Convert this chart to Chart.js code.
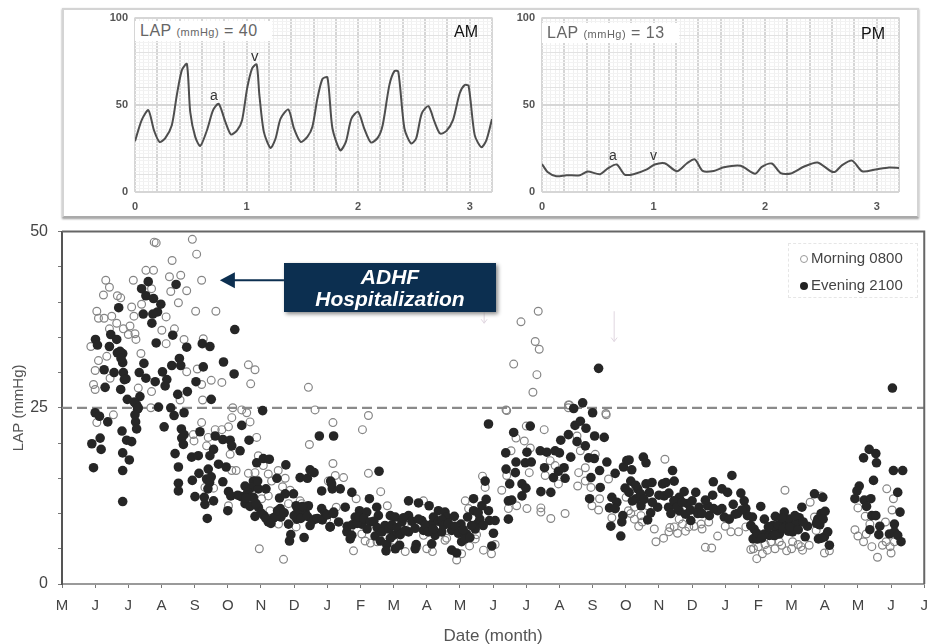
<!DOCTYPE html>
<html>
<head>
<meta charset="UTF-8">
<style>
    html, body { overflow: hidden; }
    body { margin: 0; background: #fff; font-family: 'Liberation Sans', Arial, sans-serif; }
    canvas { position: absolute; }
    #mainChart { filter: blur(0.5px); }
    #amChart, #pmChart { filter: blur(0.6px); }
    .frame { position: absolute; left: 62px; top: 8px; width: 853px; height: 206px; border: 2px solid #d4d4d4; border-bottom-color: #aaa; box-shadow: 0 1px 2px #999; }
    .lbl { position: absolute; white-space: nowrap; color: #444; }
    .lap { background: #fff; color: #666; font-size: 16px; letter-spacing: 0.5px; padding: 1px 14px 1px 5px; }
    .lap small { font-size: 11px; }
    .adhf { position: absolute; left: 284px; top: 263px; width: 212px; height: 49px; background: #0c2f50; color: #fff; font-weight: bold; font-style: italic; font-size: 21px; line-height: 22px; text-align: center; padding-top: 3px; box-sizing: border-box; box-shadow: 2px 2px 4px #888; }
    .legend { position: absolute; left: 788px; top: 243px; width: 128px; height: 53px; border: 1px dashed #e6e6e6; font-size: 15px; color: #444; }
    .legend div { position: absolute; left: 11px; white-space: nowrap; }
    .legend i { display: inline-block; width: 8px; height: 8px; border-radius: 50%; margin-right: 3px; box-sizing: border-box; }
</style>
</head>
<body>
<div class="frame"></div>
<canvas id="amChart" width="400" height="211" style="left:100px;top:4px"></canvas>
<canvas id="pmChart" width="400" height="211" style="left:507px;top:4px"></canvas>
<canvas id="mainChart" width="937" height="435" style="left:0;top:212px"></canvas>

<div class="lbl lap" style="left:135px;top:21px">LAP <small>(mmHg)</small> = 40</div>
<div class="lbl lap" style="left:542px;top:23px">LAP <small>(mmHg)</small> = 13</div>
<div class="lbl" style="left:454px;top:23px;font-size:16px;color:#111">AM</div>
<div class="lbl" style="left:861px;top:25px;font-size:16px;color:#111">PM</div>
<div class="lbl" style="left:210px;top:87px;font-size:14px;color:#333">a</div>
<div class="lbl" style="left:251px;top:47px;font-size:15px;color:#333">v</div>
<div class="lbl" style="left:609px;top:147px;font-size:14px;color:#333">a</div>
<div class="lbl" style="left:650px;top:147px;font-size:14px;color:#333">v</div>
<div class="adhf">ADHF<br>Hospitalization</div>
<div class="legend">
    <div style="top:5px"><i style="border:1px solid #999"></i>Morning 0800</div>
    <div style="top:32px"><i style="background:#222"></i>Evening 2100</div>
</div>

<script src="https://cdn.jsdelivr.net/npm/chart.js"></script>
<script>
    const monthLabels = ['M','J','J','A','S','O','N','D','J','F','M','A','M','J','J','A','S','O','N','D','J','F','M','A','M','J','J'];
    const limitLAP = 25;

    // waveforms, [seconds, mmHg]
    const amTrace = [[0,29.1],[.06,41.2],[.12,46.9],[.17,35.4],[.22,28.7],[.27,30.7],[.33,38.3],[.375,55.6],[.42,69.9],[.465,73.4],[.495,46],[.54,31.6],[.585,26.4],[.645,35.4],[.7,46.9],[.75,50.6],[.81,40.2],[.86,33],[.915,35.4],[.96,41.2],[1.005,59.4],[1.05,70.9],[1.09,73.2],[1.115,55.6],[1.155,34.5],[1.215,25.3],[1.26,30.7],[1.305,42.1],[1.375,47.3],[1.425,36.4],[1.485,28.7],[1.545,31.6],[1.59,37.4],[1.635,53.6],[1.68,64.8],[1.725,65.7],[1.77,36.4],[1.84,23.9],[1.89,28.7],[1.94,42.1],[2,46],[2.055,36.4],[2.115,28.4],[2.175,31],[2.22,38.3],[2.28,61.3],[2.325,69.3],[2.36,69],[2.415,36.4],[2.475,27.8],[2.52,30.7],[2.57,45],[2.63,49.2],[2.685,40.2],[2.735,33.5],[2.79,34.9],[2.85,41.2],[2.91,56.5],[2.955,61.3],[2.99,60.9],[3.045,32.6],[3.105,25.7],[3.15,29.7],[3.2,41.8]];
    const pmTrace = [[0,16],[.05,11.5],[.13,9],[.22,9.6],[.34,9.6],[.41,11.7],[.52,10.2],[.59,13.5],[.67,15.8],[.74,10],[.82,10.2],[.94,13],[1.01,15.8],[1.1,16.5],[1.21,11.9],[1.3,16.5],[1.37,18.7],[1.44,12.1],[1.54,12.1],[1.63,14.2],[1.78,15],[1.91,10.4],[1.97,14.4],[2.06,16.3],[2.14,10.8],[2.23,10.6],[2.35,14.6],[2.47,16.9],[2.59,11.9],[2.63,11.7],[2.69,15.4],[2.78,18],[2.87,11.9],[2.99,12.9],[3.11,14],[3.2,13.8]];

    // daily readings, [month index, mmHg]
    const morning = [[2.78,48.5],[2.84,48.4],[3.93,48.9],[4.06,46.8],[3.32,45.9],[2.76,44.5],[2.53,44.5],[2.15,43.1],[1.32,43.1],[3.24,43.6],[3.58,43.8],[4.21,43.1],[1.43,42.1],[1.25,41],[3.28,41.5],[3.76,41.6],[2.7,41.9],[1.77,40.6],[1.67,40.9],[3.51,39.9],[2.1,39.3],[2.4,39.7],[1.05,38.7],[4.03,38.7],[4.64,38.7],[1.5,38],[2.17,38],[1.1,37.7],[1.27,37.7],[3.14,37.9],[1.65,37],[2.05,36.6],[1.85,36.2],[3.01,36],[3.39,36.2],[1.43,36.2],[2,35.4],[2.2,35.5],[2.23,34.7],[4.26,34.8],[3.14,34.1],[3.68,34.7],[.87,33.7],[2.38,32.7],[1.35,32.3],[1.1,31.7],[5.62,31.1],[5.82,30.4],[1,30.3],[4.08,30.5],[3.76,30.1],[1.45,29.2],[4.5,28.9],[4.82,28.6],[.95,28.3],[5.69,28.4],[4.21,28.3],[1,27.6],[2.3,27.8],[2.7,27.3],[7.43,27.9],[4.24,26.1],[3.56,26.1],[2.68,25],[5.15,25],[5.57,24.3],[7.63,24.7],[5.12,23.6],[4.21,22.9],[8.17,22.9],[5.67,23],[5.42,24.7],[1.55,24],
    [1.05,22.9],[4.62,21.9],[4.82,21.9],[5.02,22.3],[3.96,21.2],[3.98,20.3],[4.41,20.8],[4.36,19.6],[5.87,20.8],[7.46,19.8],[8.17,17.1],[5.07,18.4],[5.92,18.2],[6.07,16.8],[5.25,16.1],[5.12,16.1],[5.62,15.7],[5.82,15.8],[6.22,15.6],[6.52,16.1],[6.73,15],[6.32,14.6],[8.24,15.4],[8.03,14.6],[4.31,13.7],[4.57,13.6],[6.65,13.8],[6.88,13.3],[6.22,12.5],[6.02,12.1],[5.02,11.1],[6.27,10.4],[7.18,11.8],[7.23,11.4],[6.83,11.4],[8.27,10.9],[5.95,5],[6.68,3.5],[7.06,8.1],[6.53,8.5],[7.98,9.2],
    [9.06,21.9],[9.24,23.9],[8.49,15.1],[9.24,15.7],[9.61,13.1],[8.87,12.1],[9.81,11.1],[8.79,4.7],[9.14,6.1],[9.04,7.1],[10.35,4.6],[11.17,4.6],[11.55,6.2],[12.05,4.3],[11.9,3.4],[12.29,5.4],[12.46,6.4],[12.71,4.8],[12.95,4.3],[13.06,5.6],[12.68,15.3],[12.76,13.7],[12.16,11.8],[12.26,10.7],[10.9,11.8],[10.55,8.3],[10.9,6.9],[9.99,9.5],
    [8.7,8],[9.5,6],[10,6.2],[11,5],[11.6,6.5],[12.5,7],[9.3,5.8],[10.7,5.3],
    [13.26,13.3],[13.41,24.6],[13.46,10.7],[13.71,11.1],[14.02,10.7],[14.44,10.8],[14.44,10.2],[14.74,9.3],[15.17,10],[14.54,21.9],[13.54,18.9],[13.69,20.7],[13.94,20.3],[14.12,19.3],[14,22.4],[14.09,15.8],[13.41,15.4],[14.57,15.4],[14.72,17.5],[14.87,16.8],[14.97,14.2],[15.27,25],[15.3,25.4],[16.41,24],[15.53,21],[15.63,18.9],[15.58,15.8],[15.55,13.9],[15.78,16.5],[15.78,14.6],[16.08,18.4],[16.48,14.9],[15.95,13.7],[16.21,12.1],[15.98,11.1],[16.18,10.5],[16.58,9.4],[17.01,12.3],[17.08,10.4],
    [14.36,38.7],[13.84,37.2],[14.27,34.4],[14.39,33.3],[13.62,31.2],[14.32,29.7],[14.2,27.2],[13.39,24.7],[15.27,25.4],[16.4,24.2],
    [18.18,17.7],[17.26,10.9],[17.15,10],[17.26,9.2],[17.46,9.7],[17.39,8.2],[17.66,11.1],[17.86,7.8],[17.91,6],[18.14,6.5],[18.33,8],[18.46,8.1],[18.56,7.2],[18.71,8.5],[18.61,9.2],[19.06,8.2],[19.27,8.5],[19.5,8.8],[19.4,5.2],[19.59,5.1],[19.77,6.8],[20,8.2],[20.17,7.4],[20.4,7.4],[20.62,8.1],[20.77,4.9],[20.95,3.6],[21.12,4.3],[21.27,4.8],[21.38,6],[21.63,6],[21.85,4.7],[22.03,6],[22.28,5.3],[22.33,4.8],[22.53,5.5],[21.8,13.3],[22.56,11.6],[22.89,12.5],[22.69,9.5],[22.74,7.6],[22.99,4.4],[23.14,4.7],[24,10.8],[24.22,9.6],[23.91,7.7],[24,6.8],[24.17,6],[24.25,7.1],[24.36,8.5],[24.42,5.3],[24.59,3.8],[24.74,5.5],[24.87,13.5],[25.07,12.1],[25.03,10.5],[24.83,8.8],[24.85,6],[24.97,5.3],[25,4.4],[25.1,6],
    [21,5.3],[21.2,5.6],[21.5,5],[21.7,5.5],[22,5],[22.2,5.6],[20.85,5],[17.5,8.8],[18.3,7.4],[18.9,8.1],[19.3,7.8],[18.8,7.5]];

    const evening = [[2.6,42.9],[3.44,42.5],[2.4,41.9],[2.53,40.9],[2.76,40.5],[2.98,39.7],[1.71,39.2],[2.88,38.6],[2.45,38.3],[2.74,38.3],[2.71,37],[5.21,36.1],[3.34,35.3],[1.47,35.4],[1.65,34.7],[1.01,34.7],[1.07,33.9],[1.43,33.7],[2.84,34.2],[3.76,33.6],[4.23,34.1],[4.46,33.7],[1.67,32.8],[1.83,32.7],[3.54,32],[1.83,31.4],[2.47,31.3],[3.31,31],[3.58,31],[4.87,31.5],[4.26,30.8],[1.27,30.4],[1.57,30],[1.85,30],[2.33,30],[3.03,30.1],[5.19,29.8],[1.93,29.1],[2.53,29.2],[2.81,28.7],[3.16,29],[4.04,28.7],[3.11,28.1],[1.3,27.9],[1.77,27.6],[3.78,27.3],[3.49,26.9],[2.35,26.6],[1.97,26.2],[4.5,26.2],[2.25,25.4],[2.91,25.1],
    [1.75,33],[1.88,29],[1.78,32],[2.22,23],[2.28,24.8],[2.18,25.8],[2.3,25],[3.6,22],
    [1,24.3],[1.13,23.8],[1.38,23],[2.2,24],[3.28,25],[3.38,23.9],[3.68,24.3],[6.05,24.6],[3.08,22.3],[2.25,22],[1.81,21.7],[1.15,20.7],[.9,19.9],[1.18,19.1],[1.95,20.4],[2.1,20.2],[1.83,18.6],[2.03,17.6],[.95,16.5],[1.83,16.1],[1.83,11.7],
    [5.42,22.5],[4.16,21.6],[3.68,21.2],[3.61,20.7],[3.66,19.8],[4.62,21],[4.85,20.5],[5.07,20.4],[5.12,19.6],[5.64,20.4],[5.37,18.9],[4.57,19.1],[4.46,18.2],[3.41,18.5],[3.91,18],[4.11,18.2],[3.51,16.6],[4.72,17],[4.95,16.6],[4.41,16.3],[4.13,15.7],[4.36,14.9],[3.93,14.7],[3.51,14.3],[3.51,13.2],[4.85,14.5],[5.02,13.1],[5.09,12.5],[4.01,12.4],[4.29,12.3],[4.31,11.3],[4.57,11.8],[5,10.4],[4.38,9.3],
    [4.5,15.2],[4.45,14.4],[4.4,13.5],
    [5.87,17.2],[6.07,17.8],[6.25,17.7],[6.75,16.9],[5.77,14.6],[5.52,13.9],[5.72,13.7],[5.92,13.5],[6.15,13.5],[6.48,15],[5.4,12.4],[5.77,12.3],[6.56,12.2],[6.73,12.8],[6.98,12.8],[5.52,11.4],[5.67,11],[5.92,10.9],[6.58,10.7],[5.82,9.6],[6.09,9.7],[6.22,8.8],[6.38,9.4],[6.6,9.5],[7.06,11.1],[7.08,10],[7.33,10.2],[7.43,11.1],[6.83,8.5],[7.08,9.2],[6.9,7],[6.86,6.1],[7.3,6.6],[7.48,8.3],[7.63,9.2],[7.83,10.7],[7.93,10],[8.09,8.1],[7.76,21],[8.19,21],[7.83,13.2],[7.18,15.1],[7.4,15],[7.48,16.2],[7.6,15.8],[8.1,14.6],[8.15,13.5],[8.19,10.2],[8.34,8.8],
    [5.6,13],[5.9,14.6],[5.7,12.3],[5.85,11.4],[6,10.1],[6.15,9.3],[6.3,8.6],[6.45,9.6],[6.5,10.4],[6.7,10.1],[7,9.7],[7.15,10.6],[7.2,9.3],[7.25,11],[7.4,9.6],[7.55,9],[7.7,9.3],[7.85,9.1],[8,9.8],[5.3,12.6],[5.55,12.2],
    [8.13,14.2],[8.39,13.5],[8.74,13],[8.54,10.9],[8.19,10],[8.08,8.1],[9.27,12.1],[9.56,16],[8.97,10.4],[9.49,10.9],[9.19,10.2],[8.84,9.5],[9.04,8.5],[8.59,7.4],[8.74,6.9],[8.69,6.4],[9.44,6.8],[9.54,9.7],[9.74,8.3],[9.9,9.7],[10.05,9.5],[10.25,8.8],[10.45,11.8],[10.45,9.7],[10.75,11.5],[11.07,11.1],[10.85,9],[9.79,5.6],[9.77,4.7],[10.05,5],[10.18,5.5],[10.68,5.6],[10.65,5],[9.99,6.9],[10.45,7.4],[10.9,7.6],[11.15,8.5],[11.2,9.5],[11.35,10.4],[11.55,10.2],[11.6,9.5],[11.83,9.6],[11.15,5.7],[11.25,6.9],[11.45,7.4],[11.75,7.6],[12.03,8.5],[11.75,4.8],[11.9,4.4],[12.05,6],[12.2,7.1],[12.23,9.5],[12.41,12.1],[12.41,10.4],[12.51,8.5],[12.46,7.8],[12.66,11.1],[12.79,12],[12.86,10.4],[12.76,14.6],[12.89,9],[13.06,9],[13.01,7.2],[12.96,5.4],[12.86,22.7],
    [8.6,8.2],[8.75,8.4],[8.9,8.6],[8.95,9.5],[9.1,9.3],[9.3,8.8],[9.2,7.8],[9.4,8.9],[9.5,8],[9.65,7.4],[9.85,7.8],[9.95,8.4],[10.1,8],[10.2,7],[10.35,7.6],[10.3,9.4],[10.55,8.9],[10.65,7.9],[10.75,9.2],[10.95,8.4],[11.05,7.4],[11.2,7.8],[11.35,8.9],[11.45,9.1],[11.5,8.3],[11.65,8.6],[11.85,8.2],[11.95,7.2],[12.1,7.7],[12.15,6.4],[12.3,6.6],[12.35,8.3],[12.6,9.2],[12.7,8.3],[12.55,10.1],[9.9,6.5],[9.6,6.1],
    [13.46,9.2],[13.46,11.8],[13.56,11.9],[13.5,14.2],[13.39,16.3],[13.38,18.6],[13.62,21.5],[13.67,15.8],[13.69,17.3],[13.87,14.2],[13.87,12.5],[13.99,13.6],[13.97,17.2],[14.02,18.7],[14.15,17.3],[14.12,22.4],[14.42,18.9],[14.62,18.7],[14.55,16.5],[14.44,13.1],[14.74,13],[14.87,18.9],[15,18.6],[14.82,15.1],[14.97,16],[15.14,16.5],[15.17,15],[15.04,20.4],[15.27,21.2],[15.34,18],[15.53,20.2],[15.47,22.5],[15.63,23.1],[15.8,22.1],[15.78,19.6],[15.43,24.9],[15.7,25.7],[16,24.3],[16.06,21],[16.35,20.8],[15.88,17.9],[16.05,17.8],[16.43,17.3],[16.21,16.1],[15.95,15.1],[16.23,13.7],[15.91,12.1],[16.68,15.7],[16.93,16.6],[17.03,17.5],[16.98,13.6],[16.58,12.3],[16.73,11.6],[16.51,10.8],[16.68,10.7],[16.91,9.7],[16.88,8.8],[16.55,8.2],[16.85,6.8],[16.18,30.6],[25.04,27.8],
    [17.1,17.6],[17.18,16.2],[17.53,18],[17.61,17.2],[17.15,14.6],[17.1,13],[17.36,13.5],[17.61,14.2],[17.79,14.4],[17.71,13],[17.31,12.1],[17.46,11.1],[17.66,9.1],[17.96,10.9],[18.11,14.2],[18.21,14.4],[18.46,14.6],[18.41,16.1],[18.16,12.5],[18.29,10.9],[18.36,10],[18.61,12.3],[18.76,13.1],[18.61,10.4],[18.86,11.4],[18.96,9],[19.11,13],[19.21,10.9],[19.17,10],[19.47,11.1],[19.52,9.7],[19.62,12.6],[19.64,14.5],[19.9,13.5],[20.07,13],[20.2,15.4],[19.77,10.4],[19.97,9.5],[20.12,9.2],[20.24,11.3],[20.37,10],[20.47,12.9],[20.57,11.8],[20.62,10.7],[20.67,9.7],[20.82,9.5],[20.77,8.3],[20.87,7.8],[21.07,11],[20.84,6.4],[20.97,6.4],[21.18,7.1],[21.33,6.9],[21.18,9.2],[21.51,9.6],[21.43,8.3],[21.53,7.6],[21.78,10.2],[21.63,7.1],[21.83,8.5],[22.03,7.4],[21.93,9.2],[22.23,9.4],[22.31,10.9],[22.13,8.5],[22.48,8.2],[22.41,6.7],[22.69,12.8],[22.94,12.3],[22.79,9.2],[22.89,10],[23.01,10.3],[22.81,6.4],[22.99,6.7],[23.09,7.4],[23.14,5.5],
    [17.2,11.8],[17.3,14],[17.45,12.8],[17.55,12],[17.8,11.6],[17.75,10.1],[18,12.6],[18.3,12.9],[18.45,11.8],[18.55,10.9],[18.7,11.6],[18.8,9.9],[18.95,10.5],[19,11.8],[19.3,10],[19.4,11.9],[19.65,10.7],[19.9,10.7],[20.3,9.9],[20.5,10.5],[20.95,7.2],[21.1,6.5],[21.45,6.9],[21.6,8.4],[21.7,9.4],[21.75,7.9],[21.9,7.5],[21.95,8.1],[22.1,9.7],[22.2,7.7],[22.35,8.8],[22.85,8.4],[22.95,9.2],[22.75,8.6],[22.9,6.5],[21.3,8.1],[21.5,6.9],
    [24.04,13.9],[23.97,13.2],[23.91,12.1],[24.19,11.9],[24.39,12.1],[24.26,11],[24.47,14.7],[24.17,17.9],[24.34,19.1],[24.54,18.5],[24.56,17.2],[24.42,9.7],[24.54,9.7],[24.36,7.7],[24.66,8.2],[24.63,7],[25.1,8.5],[24.95,7.1],[25.1,7.4],[25.2,6.9],[25.3,6],[25.07,16.1],[25.35,16.1],[25.2,13],[25.27,10.2]];

    // [month, LAP from, LAP to]
    const faintArrows = [[12.73, 38.6, 37], [16.65, 38.7, 34.4]];
    const hospitalArrow = [6.7, 4.76, 43.1];

    const toXY = pts => pts.map(p => ({ x: p[0], y: p[1] }));

    function traceChart(id, trace) {
        new Chart(document.getElementById(id), {
            type: 'scatter',
            data: {
                datasets: [{
                    data: toXY(trace),
                    showLine: true,
                    borderColor: '#4e4e4e',
                    borderWidth: 2,
                    tension: 0.25,
                    pointRadius: 0
                }]
            },
            options: {
                responsive: false,
                animation: false,
                layout: { padding: { top: 9, right: 8 } },
                plugins: { legend: { display: false }, tooltip: { enabled: false } },
                scales: {
                    x: {
                        type: 'linear', min: 0, max: 3.2,
                        afterFit: s => { s.height = 23; },
                        afterBuildTicks: s => { s.ticks = Array.from({ length: 81 }, (_, i) => ({ value: i * 0.04 })); },
                        border: { display: false },
                        grid: {
                            drawTicks: false,
                            color: c => c.index % 5 == 0 ? '#d6d6d6' : '#f0f0f0',
                            lineWidth: c => c.index % 5 == 0 ? 2 : 1
                        },
                        ticks: {
                            autoSkip: false, maxRotation: 0, padding: 8,
                            color: '#555',
                            font: { size: 11, weight: 'bold', family: 'Liberation Sans' },
                            callback: (v, i) => i % 25 == 0 ? String(i / 25) : ''
                        }
                    },
                    y: {
                        min: 0, max: 100,
                        afterFit: s => { s.width = 35; },
                        border: { display: false },
                        grid: {
                            drawTicks: false,
                            color: c => c.tick.value % 50 == 0 ? '#d6d6d6' : c.tick.value % 10 == 0 ? '#e2e2e2' : '#f3f3f3',
                            lineWidth: c => c.tick.value % 50 == 0 ? 2 : 1
                        },
                        ticks: {
                            stepSize: 2, autoSkip: false, padding: 7,
                            color: '#555',
                            font: { size: 11, weight: 'bold', family: 'Liberation Sans' },
                            callback: v => v % 50 == 0 ? String(v) : ''
                        }
                    }
                }
            }
        });
    }

    traceChart('amChart', amTrace);
    traceChart('pmChart', pmTrace);

    const framePlugin = {
        id: 'framePlugin',
        afterDraw(chart) {
            const { ctx, chartArea: a, scales } = chart;
            ctx.save();
            ctx.strokeStyle = '#666';
            ctx.lineWidth = 2;
            ctx.beginPath();
            ctx.moveTo(a.left, a.top);
            ctx.lineTo(a.right, a.top);
            ctx.lineTo(a.right, a.bottom);
            ctx.stroke();

            ctx.strokeStyle = '#e0d6e0';
            ctx.fillStyle = '#e0d6e0';
            ctx.lineWidth = 1;
            faintArrows.forEach(f => {
                const x = scales.x.getPixelForValue(f[0]);
                const y0 = scales.y.getPixelForValue(f[1]);
                const y1 = scales.y.getPixelForValue(f[2]);
                ctx.beginPath();
                ctx.moveTo(x, y0);
                ctx.lineTo(x, y1);
                ctx.moveTo(x - 3, y1 - 4);
                ctx.lineTo(x, y1);
                ctx.lineTo(x + 3, y1 - 4);
                ctx.stroke();
            });

            const ax0 = scales.x.getPixelForValue(hospitalArrow[0]);
            const ax1 = scales.x.getPixelForValue(hospitalArrow[1]);
            const ay = scales.y.getPixelForValue(hospitalArrow[2]);
            ctx.strokeStyle = '#0c2f50';
            ctx.fillStyle = '#0c2f50';
            ctx.lineWidth = 2;
            ctx.beginPath();
            ctx.moveTo(ax0, ay);
            ctx.lineTo(ax1 + 12, ay);
            ctx.stroke();
            ctx.beginPath();
            ctx.moveTo(ax1, ay);
            ctx.lineTo(ax1 + 15, ay - 8);
            ctx.lineTo(ax1 + 15, ay + 8);
            ctx.closePath();
            ctx.fill();
            ctx.restore();
        }
    };

    new Chart(document.getElementById('mainChart'), {
        type: 'scatter',
        data: {
            datasets: [
                { label: 'Evening 2100', data: toXY(evening), order: 0, backgroundColor: '#262626', borderColor: '#262626', pointRadius: 4.8, borderWidth: 0 },
                { label: 'Morning 0800', data: toXY(morning), order: 1, backgroundColor: 'rgba(255,255,255,0)', borderColor: '#858585', pointRadius: 3.9, pointBorderWidth: 1.2 },
                { label: 'limit', data: [{ x: 0, y: limitLAP }, { x: monthLabels.length - 1, y: limitLAP }], order: 2, showLine: true, borderColor: '#8a8a8a', borderWidth: 2.2, borderDash: [10, 5], pointRadius: 0 }
            ]
        },
        options: {
            responsive: false,
            animation: false,
            layout: { padding: { left: 10, top: 7, right: 0 } },
            plugins: { legend: { display: false }, tooltip: { enabled: false } },
            scales: {
                x: {
                    type: 'linear', min: 0, max: monthLabels.length - 1,
                    afterFit: s => { s.height = 63; },
                    border: { color: '#9a9a9a', width: 2 },
                    grid: { drawOnChartArea: false, tickLength: 4, color: '#777' },
                    title: { display: true, text: 'Date (month)', color: '#555', font: { size: 17, family: 'Liberation Sans' }, padding: { top: 0, bottom: 0 } },
                    ticks: {
                        stepSize: 1, autoSkip: false, maxRotation: 0, padding: 9,
                        color: '#444',
                        font: { size: 15, family: 'Liberation Sans' },
                        callback: v => monthLabels[v]
                    }
                },
                y: {
                    min: 0, max: 50,
                    afterFit: s => { s.width = 52; },
                    border: { color: '#555', width: 2 },
                    grid: { drawOnChartArea: false, tickLength: 4, color: '#777' },
                    title: { display: true, text: 'LAP (mmHg)', color: '#555', font: { size: 15, family: 'Liberation Sans' }, padding: 0 },
                    ticks: {
                        stepSize: 5, autoSkip: false, padding: 10,
                        color: '#444',
                        font: { size: 16, family: 'Liberation Sans' },
                        callback: v => v % 25 == 0 ? String(v) : ''
                    }
                }
            }
        },
        plugins: [framePlugin]
    });
</script>
</body>
</html>
